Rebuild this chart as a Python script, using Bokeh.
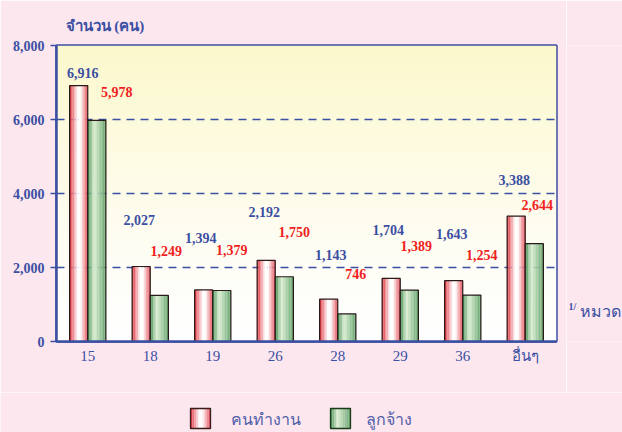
import numpy as np
from bokeh.plotting import figure
from bokeh.layouts import column, row
from bokeh.models import (ColumnDataSource, FactorRange, Range1d, FixedTicker, NumeralTickFormatter,
                          LabelSet)
from bokeh.transform import dodge
from bokeh.core.properties import value
from bokeh.embed import file_html
from bokeh.resources import INLINE

# ---------------- data ----------------
categories = ["15", "18", "19", "26", "28", "29", "36", "อื่นๆ"]
workers = [6916, 2027, 1394, 2192, 1143, 1704, 1643, 3388]      # คนทำงาน
employees = [5978, 1249, 1379, 1750, 746, 1389, 1254, 2644]     # ลูกจ้าง
series_names = ["คนทำงาน", "ลูกจ้าง"]
y_ticks = [0, 2000, 4000, 6000, 8000]

# ---------------- label layout (pixel offsets from bar tops) ----------------
w_lab_dx = [-5, -11, -12, -11, -7, -12, -11, -11]
w_lab_dy = [13, 47, 52, 48, 44, 48, 47, 36]
e_lab_dx = [29, 16, 19, 19, 18, 16, 19, 12]
e_lab_dy = [28, 44, 40, 45, 40, 44, 40, 39]

BLUE = "#3B4FA3"
RED = "#F01E1E"
PINK = "#FDE7EE"
LEG_TXT = "#5060AA"
SERIF = "Liberation Serif"
THAI = "Noto Sans"


def mix(a, b, m):
    a = np.array(a, float); b = np.array(b, float)
    c = a * (1 - m) + b * m
    return "#%02x%02x%02x" % tuple(int(round(x)) for x in c)


def red_col(tt):
    if tt < 0.45:
        m = 1 - tt / 0.45
    elif tt < 0.6:
        m = 0
    else:
        m = 0.85 * (tt - 0.6) / 0.4
    return mix((255, 255, 255), (222, 40, 52), m)


def green_col(tt):
    if tt < 0.35:
        m = 1 - tt / 0.35
    else:
        m = 0.75 * (tt - 0.35) / 0.65
    return mix((218, 238, 210), (58, 138, 72), m)


def blank_fig(w, h, xr, yr):
    f = figure(width=w, height=h, x_range=xr, y_range=yr, output_backend="svg",
               toolbar_location=None, min_border=0, x_axis_type=None, y_axis_type=None)
    f.grid.visible = False
    f.outline_line_color = None
    f.background_fill_color = PINK
    f.border_fill_color = PINK
    return f


src = ColumnDataSource(dict(
    cat=categories, w=workers, e=employees,
    wl=[f"{v:,}" for v in workers], el=[f"{v:,}" for v in employees],
    wdx=w_lab_dx, wdy=w_lab_dy, edx=e_lab_dx, edy=e_lab_dy,
))

# ---------------- main chart ----------------
p = figure(x_range=FactorRange(*categories), y_range=Range1d(0, 8000),
           width=566, height=392, output_backend="svg", toolbar_location=None,
           min_border_left=56, min_border_right=10, min_border_top=45, min_border_bottom=51)
p.background_fill_color = "white"
p.border_fill_color = PINK
p.outline_line_color = BLUE
p.outline_line_width = 2.5

p.title.text = "จำนวน (คน)"
p.title.align = "left"
p.title.offset = 9
p.title.standoff = 24
p.title.text_color = BLUE
p.title.text_font = SERIF
p.title.text_font_style = "bold"
p.title.text_font_size = "15px"

# plot-area vertical gradient (white bottom -> pale yellow top)
ny = 120
top_c = np.array([252, 248, 204]); bot_c = np.array([255, 255, 255])
t = np.linspace(0, 1, ny) ** 1.3
cols = (bot_c[None, :] * (1 - t[:, None]) + top_c[None, :] * t[:, None]).astype(np.uint32)
img = np.zeros((ny, 1), dtype=np.uint32)
view = img.view(dtype=np.uint8).reshape((ny, 1, 4))
view[:, 0, 0] = cols[:, 0]; view[:, 0, 1] = cols[:, 1]; view[:, 0, 2] = cols[:, 2]; view[:, 0, 3] = 255
p.image_rgba(image=[img], x=0, y=0, dw=len(categories), dh=8000, level="image")

# bars with horizontal gradients built from vertical strips
W = 0.29
N = 12
for field, center, fn in (("w", -W / 2, red_col), ("e", W / 2, green_col)):
    for j in range(N):
        tt = (j + 0.5) / N
        off = center - W / 2 + (j + 0.5) * W / N
        p.vbar(x=dodge("cat", off, range=p.x_range), top=field, width=W / N * 1.02, bottom=0,
               source=src, fill_color=fn(tt), line_color=None)
    p.vbar(x=dodge("cat", center, range=p.x_range), top=field, width=W, bottom=0, source=src,
           fill_color=None, line_color="#2a1a1a", line_width=1.2)

# value labels
p.add_layout(LabelSet(x="cat", y="w", text="wl", x_offset="wdx", y_offset="wdy", source=src,
                      text_align="center", text_baseline="middle", text_color=BLUE,
                      text_font=value(SERIF), text_font_style="bold", text_font_size="14px"))
p.add_layout(LabelSet(x="cat", y="e", text="el", x_offset="edx", y_offset="edy", source=src,
                      text_align="center", text_baseline="middle", text_color=RED,
                      text_font=value(SERIF), text_font_style="bold", text_font_size="14px"))

# axes
p.yaxis.ticker = FixedTicker(ticks=y_ticks)
p.yaxis.formatter = NumeralTickFormatter(format="0,0")
p.yaxis.axis_line_color = BLUE
p.yaxis.axis_line_width = 2.5
p.yaxis.major_tick_line_color = BLUE
p.yaxis.major_tick_line_width = 1.5
p.yaxis.major_tick_out = 6
p.yaxis.major_tick_in = 0
p.yaxis.minor_tick_line_color = None
p.yaxis.major_label_text_font = SERIF
p.yaxis.major_label_text_font_style = "bold"
p.yaxis.major_label_text_font_size = "14px"
p.yaxis.major_label_text_color = BLUE
p.yaxis.major_label_standoff = 6

p.xaxis.axis_line_color = BLUE
p.xaxis.axis_line_width = 2.5
p.xaxis.major_tick_line_color = None
p.xaxis.minor_tick_line_color = None
p.xaxis.major_label_text_font = SERIF
p.xaxis.major_label_text_font_size = "15px"
p.xaxis.major_label_text_color = BLUE
p.xaxis.major_label_standoff = 0

p.xgrid.grid_line_color = None
p.ygrid.grid_line_color = BLUE
p.ygrid.grid_line_width = 1.3
p.ygrid.grid_line_dash = "8 6"

# ---------------- x-axis name, right of the axis line (pixel space) ----------------
side = blank_fig(56, 392, Range1d(0, 56), Range1d(392, 0))
side.text(x=[2], y=[345], text=["1/"], text_color=BLUE, text_font=value(SERIF),
          text_font_style="bold", text_font_size="10px", text_baseline="middle")
side.text(x=[13], y=[351], text=["หมวด"], text_color=BLUE, text_font=value(THAI),
          text_font_size="16px", text_baseline="middle")

# ---------------- legend strip (pixel space) ----------------
leg = blank_fig(622, 40, Range1d(0, 622), Range1d(40, 0))
NS = 10
for x0, fn, oc in ((190, red_col, "#3a1a1a"), (330, green_col, "#1a3a1a")):
    xs = np.linspace(x0, x0 + 20, NS + 1)
    leg.quad(left=xs[:-1], right=xs[1:], top=16, bottom=36,
             fill_color=[fn((k + 0.5) / NS) for k in range(NS)], line_color=None)
    leg.quad(left=[x0], right=[x0 + 20], top=[16], bottom=[36], fill_color=None,
             line_color=oc, line_width=1.3)
leg.text(x=[230, 365], y=[26, 26], text=series_names, text_color=LEG_TXT,
         text_font=value(THAI), text_font_size="16px", text_baseline="middle")

layout = column(row(p, side, spacing=0), leg, spacing=0)

html = file_html(layout, INLINE)
html = html.replace("<body>", f'<body style="background:{PINK}">', 1)
open("out.html", "w").write(html)
